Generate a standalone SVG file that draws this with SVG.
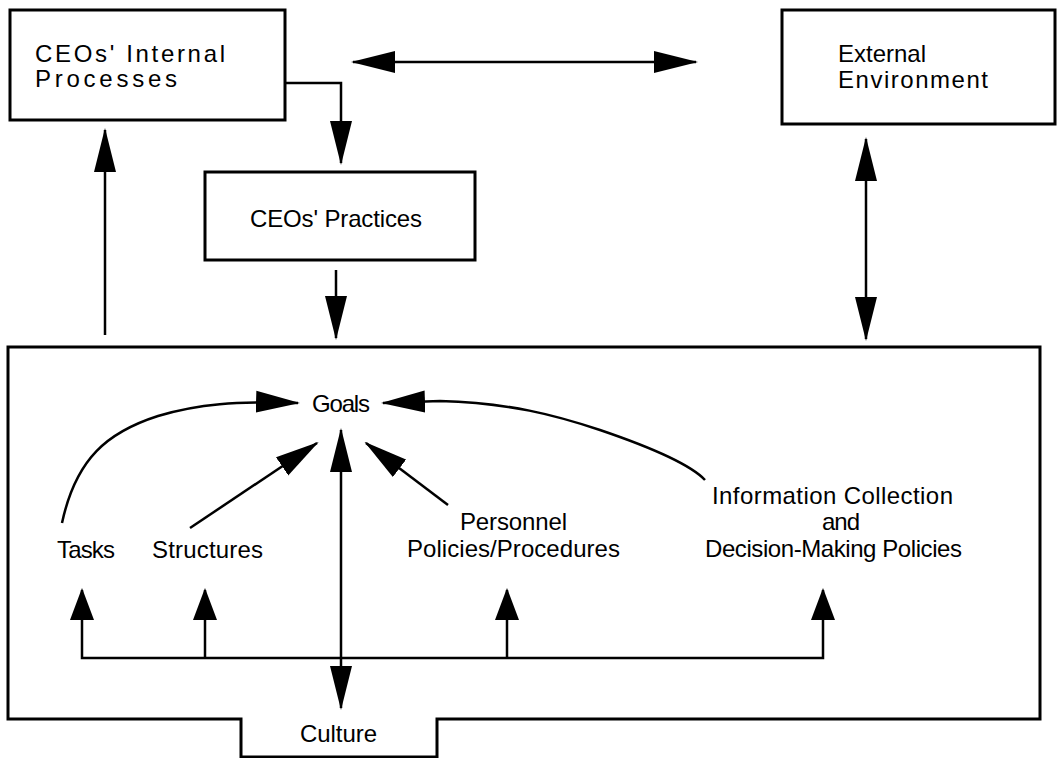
<svg xmlns="http://www.w3.org/2000/svg" width="1057" height="758" viewBox="0 0 1057 758">
<defs>
<style>
.box{fill:#fff;stroke:#000;stroke-width:3}
.ln{fill:none;stroke:#000;stroke-width:2.5}
text{font-family:"Liberation Sans",Arial,sans-serif;font-size:24px;fill:#000}
</style>
<marker id="big" markerUnits="userSpaceOnUse" markerWidth="44" markerHeight="24" viewBox="0 0 44 24" refX="42" refY="12" orient="auto-start-reverse">
<path d="M0,1 L44,12 L0,23 Z" fill="#000"/>
</marker>
<marker id="small" markerUnits="userSpaceOnUse" markerWidth="32" markerHeight="26" viewBox="0 0 32 26" refX="30" refY="13" orient="auto-start-reverse">
<path d="M0,1 L32,13 L0,25 Z" fill="#000"/>
</marker>
</defs>
<rect width="1057" height="758" fill="#fff"/>

<g id="internal">
<rect class="box" x="10" y="10" width="275" height="110"/>
<text x="35" y="62" textLength="190" lengthAdjust="spacing">CEOs' Internal</text>
<text x="35" y="87" textLength="142" lengthAdjust="spacing">Processes</text>
</g>
<g id="external">
<rect class="box" x="782" y="10" width="273" height="114"/>
<text x="838" y="62">External</text>
<text x="838" y="88" textLength="150" lengthAdjust="spacing">Environment</text>
</g>
<g id="practices">
<rect class="box" x="205" y="172" width="270" height="88"/>
<text x="250" y="227" textLength="172" lengthAdjust="spacing">CEOs' Practices</text>
</g>
<g id="organization">
<path class="box" d="M8,347 H1040 V719 H437 V757 H241 V719 H8 Z"/>
</g>
<g id="goals"><text x="312" y="412" textLength="58" lengthAdjust="spacing">Goals</text></g>
<g id="tasks"><text x="57" y="558" textLength="58" lengthAdjust="spacing">Tasks</text></g>
<g id="structures"><text x="152" y="558" textLength="111" lengthAdjust="spacing">Structures</text></g>
<g id="personnel">
<text x="460" y="530" textLength="107" lengthAdjust="spacing">Personnel</text>
<text x="407" y="557" textLength="213" lengthAdjust="spacing">Policies/Procedures</text>
</g>
<g id="information">
<text x="712" y="504" textLength="241" lengthAdjust="spacing">Information Collection</text>
<text x="822" y="530" textLength="38" lengthAdjust="spacing">and</text>
<text x="705" y="557" textLength="257" lengthAdjust="spacing">Decision-Making Policies</text>
</g>
<g id="culture"><text x="300" y="742" textLength="77" lengthAdjust="spacing">Culture</text></g>

<g id="connectors">
<line class="ln" x1="353" y1="62" x2="696" y2="62" marker-start="url(#big)" marker-end="url(#big)"/>
<polyline class="ln" points="285,83 341,83 341,163" marker-end="url(#big)"/>
<line class="ln" x1="105" y1="335" x2="105" y2="130" marker-end="url(#big)"/>
<line class="ln" x1="336" y1="270" x2="336" y2="338" marker-end="url(#big)"/>
<line class="ln" x1="866" y1="139" x2="866" y2="339" marker-start="url(#big)" marker-end="url(#big)"/>
<path class="ln" d="M62,523 C76,458 108,432 158,416 C198,404 236,401 298,403" marker-end="url(#big)"/>
<line class="ln" x1="190" y1="528" x2="317" y2="443" marker-end="url(#big)"/>
<line class="ln" x1="448" y1="505" x2="366" y2="443" marker-end="url(#big)"/>
<path class="ln" d="M705,480 C690,464 650,447 600,430 C555,415 510,403 440,401 L383,403" marker-end="url(#big)"/>
<line class="ln" x1="341" y1="430" x2="341" y2="708" marker-start="url(#big)" marker-end="url(#big)"/>
<polyline class="ln" points="82,590 82,658 823,658 823,590" marker-start="url(#small)" marker-end="url(#small)"/>
<line class="ln" x1="205" y1="658" x2="205" y2="590" marker-end="url(#small)"/>
<line class="ln" x1="507" y1="658" x2="507" y2="590" marker-end="url(#small)"/>
</g>
</svg>
